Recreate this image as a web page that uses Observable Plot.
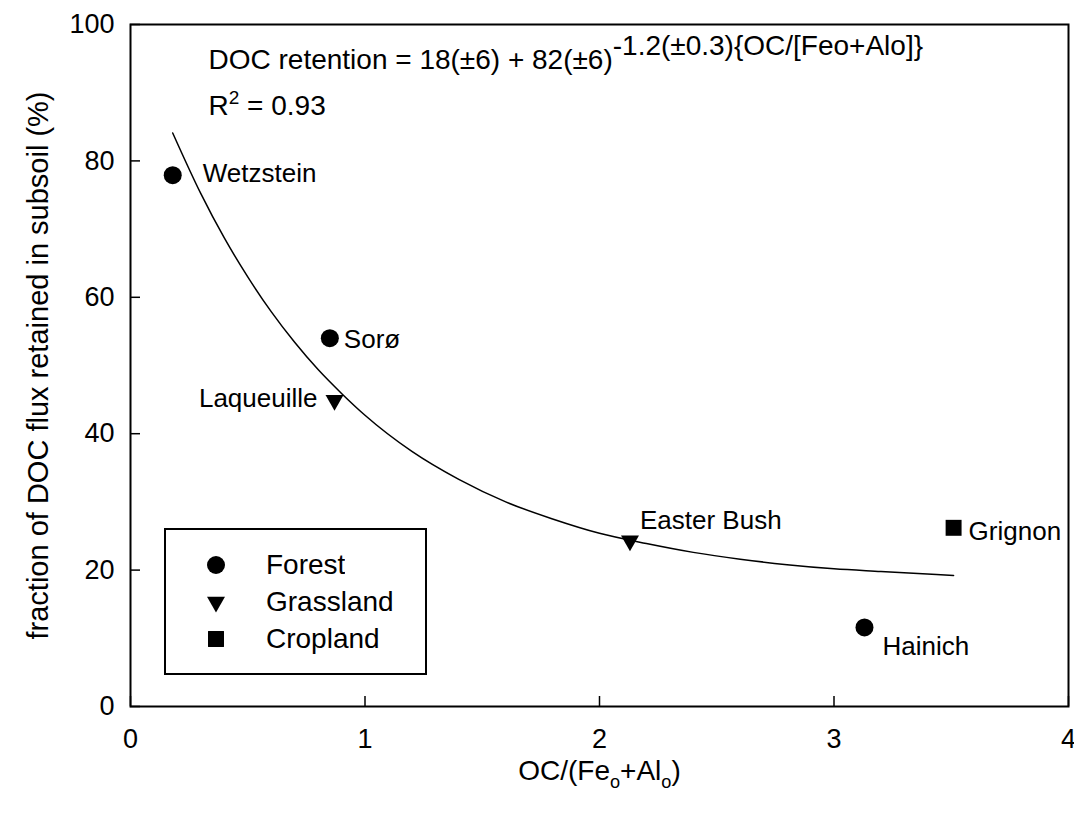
<!DOCTYPE html>
<html>
<head>
<meta charset="utf-8">
<script src="https://cdn.jsdelivr.net/npm/d3@7"></script>
<script src="https://cdn.jsdelivr.net/npm/@observablehq/plot@0.6"></script>
<style>
  html, body { margin: 0; padding: 0; background: #fff; }
  body { font-family: "Liberation Sans", Arial, Helvetica, sans-serif; }
  #wrap { position: relative; width: 1074px; height: 817px; overflow: hidden; }
  #wrap > svg { display: block; }
  #legendBox {
    position: absolute; left: 164px; top: 528px;
    width: 259px; height: 143px; border: 2px solid #000;
    box-sizing: content-box; background: #fff;
    padding: 0; overflow: hidden;
  }
  #legendBox .lg-swatches { margin: 0 !important; padding: 16px 0 0 42px !important; }
  #legendBox .lg-swatch { height: 37px; display: flex; align-items: center; padding: 0 !important; }
  #legendBox .lg-swatch > svg { margin-right: 42px !important; overflow: visible; }
</style>
</head>
<body>
<div id="wrap"></div>
<script>
// ---------- data ----------
const sites      = ["Wetzstein", "Sorø", "Laqueuille", "Easter Bush", "Grignon", "Hainich"];
const landUse    = ["Forest", "Forest", "Grassland", "Grassland", "Cropland", "Forest"];
const ocRatio    = [0.18, 0.85, 0.87, 2.13, 3.51, 3.13];
const retention  = [77.9, 54.0, 44.9, 24.3, 26.2, 11.6];

// fitted curve
const fitX = [0.18, 0.3, 0.4, 0.5, 0.6, 0.7, 0.8, 0.9, 1.0, 1.2, 1.4, 1.6, 1.8, 2.0, 2.2, 2.4, 2.6, 2.8, 3.0, 3.2, 3.51];
const fitY = [84.1, 75.2, 68.7, 63.0, 57.9, 53.4, 49.4, 45.9, 42.7, 37.4, 33.3, 30.0, 27.5, 25.4, 23.9, 22.6, 21.6, 20.8, 20.2, 19.8, 19.2];

const landUseClasses = ["Forest", "Grassland", "Cropland"];
const xTicks = [0, 1, 2, 3, 4];
const yTicks = [0, 20, 40, 60, 80, 100];
const xTitle = "OC/(Fe_<o>+Al_<o>)";
const yTitle = "fraction of DOC flux retained in subsoil (%)";
const equationLine = "DOC retention = 18(±6) + 82(±6)~<-1.2(±0.3){OC/[Feo+Alo]}>";
const r2Line = "R^<2> = 0.93";

// ---------- layout / style ----------
const W = 1074, H = 817;
const mL = 130, mR = 6, mT = 24, mB = 111;
const innerW = W - mL - mR, innerH = H - mT - mB;
const FONT = "'Liberation Sans', Arial, Helvetica, sans-serif";

const labelStyle = {
  "Wetzstein":   {dx: 30,  dy: -2, textAnchor: "start"},
  "Sorø":        {dx: 14,  dy: 1,  textAnchor: "start"},
  "Laqueuille":  {dx: -17, dy: -2, textAnchor: "end"},
  "Easter Bush": {dx: 10,  dy: -20, textAnchor: "start"},
  "Grignon":     {dx: 15,  dy: 4,  textAnchor: "start"},
  "Hainich":     {dx: 18,  dy: 19, textAnchor: "start"}
};

// downward-pointing triangle symbol
const sqrt3 = Math.sqrt(3);
const triangleDown = {
  draw(context, size) {
    const s = size * 0.55;
    const y = -Math.sqrt(s / (sqrt3 * 3));
    context.moveTo(0, -y * 2);
    context.lineTo(-sqrt3 * y, y);
    context.lineTo(sqrt3 * y, y);
    context.closePath();
  }
};
const symbolRange = ["circle", triangleDown, "square"];

const rows = sites.map((s, i) => ({site: s, use: landUse[i], x: ocRatio[i], y: retention[i]}));
const fit = fitX.map((x, i) => ({x, y: fitY[i]}));

const labelMarks = sites.map(s => Plot.text(rows.filter(r => r.site === s), {
  x: "x", y: "y", text: "site", fontSize: 26, fill: "black", lineAnchor: "middle", ...labelStyle[s]
}));

const chart = Plot.plot({
  width: W, height: H,
  marginLeft: mL, marginRight: mR, marginTop: mT, marginBottom: mB,
  style: {fontFamily: FONT, background: "white", color: "black", overflow: "visible"},
  x: {domain: [0, 4]},
  y: {domain: [0, 100]},
  symbol: {domain: landUseClasses, range: symbolRange},
  marks: [
    Plot.tickX(xTicks, {x: d => d, stroke: "black", strokeWidth: 1.5, insetTop: innerH - 10}),
    Plot.tickY(yTicks, {y: d => d, stroke: "black", strokeWidth: 1.5, insetRight: innerW - 10}),
    Plot.axisX(xTicks, {tickSize: 0, tickPadding: 22, fontSize: 27, label: null, tickFormat: d => String(d)}),
    Plot.axisY(yTicks, {tickSize: 0, tickPadding: 16, fontSize: 27, label: null, tickFormat: d => String(d)}),
    Plot.line(fit, {x: "x", y: "y", stroke: "black", strokeWidth: 1.5, curve: "monotone-x"}),
    Plot.dot(rows, {x: "x", y: "y", symbol: "use", r: 9, fill: "black", stroke: "none"}),
    ...labelMarks,
    Plot.text([equationLine], {text: d => d, frameAnchor: "top-left", dx: 78, dy: 36, textAnchor: "start", lineAnchor: "middle", fontSize: 28}),
    Plot.text([r2Line], {text: d => d, frameAnchor: "top-left", dx: 78, dy: 82, textAnchor: "start", lineAnchor: "middle", fontSize: 28}),
    Plot.text([xTitle], {text: d => d, frameAnchor: "bottom", dy: 65, textAnchor: "middle", lineAnchor: "middle", fontSize: 28}),
    Plot.text([yTitle], {text: d => d, frameAnchor: "left", dx: -92, rotate: -90, textAnchor: "middle", lineAnchor: "middle", fontSize: 29}),
    Plot.frame({stroke: "black", strokeWidth: 2})
  ]
});

const wrap = document.getElementById("wrap");
wrap.appendChild(chart);

// rich text: ^<..> small superscript, _<..> small subscript, ~<..> raised full-size
function richify(svg) {
  svg.querySelectorAll("text").forEach(t => {
    const s = t.textContent;
    if (!/[\^_~]</.test(s)) return;
    const fsEl = t.closest("[font-size]");
    const fs = fsEl ? parseFloat(fsEl.getAttribute("font-size")) : 16;
    while (t.firstChild) t.removeChild(t.firstChild);
    const re = /([\^_~])<([^>]*)>/g;
    let last = 0, m, shift = 0;
    const add = (str, newShift, size) => {
      if (!str) return;
      const ts = document.createElementNS("http://www.w3.org/2000/svg", "tspan");
      ts.setAttribute("dy", (newShift - shift) + "px");
      if (size) ts.setAttribute("font-size", size + "px");
      ts.textContent = str;
      t.appendChild(ts);
      shift = newShift;
    };
    while ((m = re.exec(s))) {
      add(s.slice(last, m.index), 0, null);
      if (m[1] === "^") add(m[2], -0.42 * fs, 0.68 * fs);
      else if (m[1] === "_") add(m[2], 0.28 * fs, 0.65 * fs);
      else add(m[2], -0.5 * fs, null);
      last = re.lastIndex;
    }
    add(s.slice(last), 0, null);
  });
}
richify(chart);

// legend (Plot's own symbol legend), placed inside the plot frame
const legend = Plot.legend({
  symbol: {domain: landUseClasses, range: symbolRange},
  fill: "black", stroke: "none", r: 9,
  columns: 1, swatchSize: 16, className: "lg",
  style: {fontFamily: FONT, fontSize: "28px", color: "black", background: "transparent"}
});
const box = document.createElement("div");
box.id = "legendBox";
box.appendChild(legend);
wrap.appendChild(box);
</script>
</body>
</html>
